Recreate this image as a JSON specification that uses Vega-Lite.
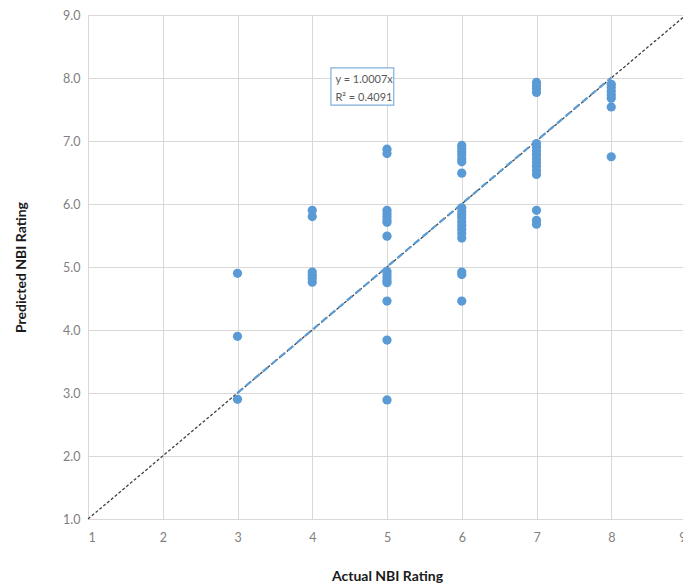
{
  "$schema": "https://vega.github.io/schema/vega-lite/v6.json",
  "autosize": "none",
  "width": 598,
  "height": 504,
  "padding": {"left": 88, "top": 15, "right": 0, "bottom": 68},
  "background": "white",
  "config": {
    "view": {"stroke": null},
    "font": "Lato",
    "axis": {
      "gridColor": "#d9d9d9",
      "gridWidth": 1,
      "domainColor": "#d9d9d9",
      "tickColor": "#d9d9d9",
      "ticks": false,
      "labelColor": "#808080",
      "labelFont": "Lato",
      "labelFontSize": 12.5,
      "titleFont": "Lato",
      "titleFontSize": 14,
      "titleFontWeight": "bold",
      "titleColor": "#1a1a1a"
    }
  },
  "datasets": {
    "pts": [
      {"actual": 3, "predicted": 4.9}, {"actual": 3, "predicted": 3.9}, {"actual": 3, "predicted": 2.9},
      {"actual": 4, "predicted": 5.9}, {"actual": 4, "predicted": 5.8}, {"actual": 4, "predicted": 4.92}, {"actual": 4, "predicted": 4.87}, {"actual": 4, "predicted": 4.82}, {"actual": 4, "predicted": 4.76},
      {"actual": 5, "predicted": 6.87}, {"actual": 5, "predicted": 6.8}, {"actual": 5, "predicted": 5.9}, {"actual": 5, "predicted": 5.85}, {"actual": 5, "predicted": 5.8}, {"actual": 5, "predicted": 5.75}, {"actual": 5, "predicted": 5.71}, {"actual": 5, "predicted": 5.49}, {"actual": 5, "predicted": 4.93}, {"actual": 5, "predicted": 4.88}, {"actual": 5, "predicted": 4.83}, {"actual": 5, "predicted": 4.78}, {"actual": 5, "predicted": 4.75}, {"actual": 5, "predicted": 4.46}, {"actual": 5, "predicted": 3.84}, {"actual": 5, "predicted": 2.89},
      {"actual": 6, "predicted": 6.93}, {"actual": 6, "predicted": 6.88}, {"actual": 6, "predicted": 6.83}, {"actual": 6, "predicted": 6.78}, {"actual": 6, "predicted": 6.72}, {"actual": 6, "predicted": 6.67}, {"actual": 6, "predicted": 6.49}, {"actual": 6, "predicted": 5.94}, {"actual": 6, "predicted": 5.88}, {"actual": 6, "predicted": 5.83}, {"actual": 6, "predicted": 5.78}, {"actual": 6, "predicted": 5.72}, {"actual": 6, "predicted": 5.66}, {"actual": 6, "predicted": 5.6}, {"actual": 6, "predicted": 5.53}, {"actual": 6, "predicted": 5.46}, {"actual": 6, "predicted": 4.92}, {"actual": 6, "predicted": 4.88}, {"actual": 6, "predicted": 4.46},
      {"actual": 7, "predicted": 7.93}, {"actual": 7, "predicted": 7.88}, {"actual": 7, "predicted": 7.83}, {"actual": 7, "predicted": 7.77}, {"actual": 7, "predicted": 6.96}, {"actual": 7, "predicted": 6.9}, {"actual": 7, "predicted": 6.84}, {"actual": 7, "predicted": 6.78}, {"actual": 7, "predicted": 6.72}, {"actual": 7, "predicted": 6.66}, {"actual": 7, "predicted": 6.6}, {"actual": 7, "predicted": 6.53}, {"actual": 7, "predicted": 6.47}, {"actual": 7, "predicted": 5.9}, {"actual": 7, "predicted": 5.74}, {"actual": 7, "predicted": 5.68},
      {"actual": 8, "predicted": 7.9}, {"actual": 8, "predicted": 7.85}, {"actual": 8, "predicted": 7.79}, {"actual": 8, "predicted": 7.73}, {"actual": 8, "predicted": 7.68}, {"actual": 8, "predicted": 7.54}, {"actual": 8, "predicted": 6.75}
    ],
    "identity": [{"actual": 1, "predicted": 1}, {"actual": 9, "predicted": 9}],
    "trend": [{"actual": 3, "predicted": 3.0021}, {"actual": 8, "predicted": 8.0056}],
    "box": [{"x1": 4.25, "x2": 5.09, "y1": 7.57, "y2": 8.16}],
    "labels": [
      {"actual": 4.31, "predicted": 7.97, "text": "y = 1.0007x"},
      {"actual": 4.31, "predicted": 7.69, "text": "R² = 0.4091"}
    ]
  },
  "layer": [
    {
      "data": {"name": "identity"},
      "mark": {"type": "line", "color": "#404040", "strokeWidth": 1.3, "strokeDash": [3, 2]},
      "encoding": {
        "x": {
          "field": "actual", "type": "quantitative",
          "scale": {"domain": [1, 9], "nice": false, "zero": false},
          "axis": {"title": "Actual NBI Rating", "values": [1,2,3,4,5,6,7,8,9], "format": "d", "labelPadding": 12, "titlePadding": 26, "domain": true}
        },
        "y": {
          "field": "predicted", "type": "quantitative",
          "scale": {"domain": [1, 9], "nice": false, "zero": false},
          "axis": {"title": "Predicted NBI Rating", "values": [1,2,3,4,5,6,7,8,9], "format": ".1f", "labelPadding": 8, "titlePadding": 34}
        }
      }
    },
    {
      "data": {"name": "pts"},
      "mark": {"type": "circle", "size": 85, "color": "#5b9bd5", "opacity": 1},
      "encoding": {
        "x": {"field": "actual", "type": "quantitative"},
        "y": {"field": "predicted", "type": "quantitative"}
      }
    },
    {
      "data": {"name": "trend"},
      "mark": {"type": "line", "color": "#5b9bd5", "strokeWidth": 2.2, "strokeDash": [7, 4]},
      "encoding": {
        "x": {"field": "actual", "type": "quantitative"},
        "y": {"field": "predicted", "type": "quantitative"}
      }
    },
    {
      "data": {"name": "box"},
      "mark": {"type": "rect", "fill": "white", "stroke": "#7fb0dc", "strokeWidth": 1.2},
      "encoding": {
        "x": {"field": "x1", "type": "quantitative"},
        "x2": {"field": "x2"},
        "y": {"field": "y1", "type": "quantitative"},
        "y2": {"field": "y2"}
      }
    },
    {
      "data": {"name": "labels"},
      "mark": {"type": "text", "align": "left", "baseline": "middle", "fontSize": 11, "color": "#595959", "font": "Lato"},
      "encoding": {
        "x": {"field": "actual", "type": "quantitative"},
        "y": {"field": "predicted", "type": "quantitative"},
        "text": {"field": "text"}
      }
    }
  ]
}
